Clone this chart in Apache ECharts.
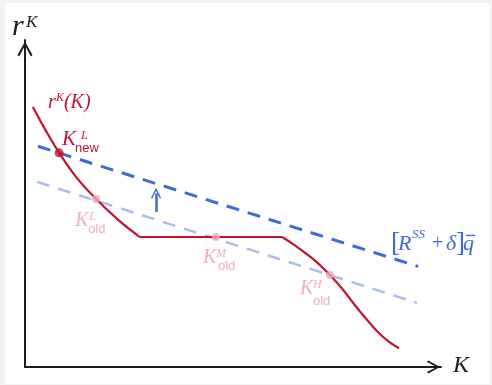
<!DOCTYPE html>
<html>
<head>
<meta charset="utf-8">
<script src="https://cdn.jsdelivr.net/npm/echarts@6/dist/echarts.min.js"></script>
<style>
  html, body { margin: 0; padding: 0; background: #fff; }
  #chart { width: 492px; height: 385px; }
</style>
</head>
<body>
<div id="chart"></div>
<script>
// Return on capital r^K(K): steep left branch, flat middle, S-shaped right branch
const leftBranch = [[0.19, 6.36], [0.48, 5.82], [0.82, 5.24], [1.25, 4.62], [1.71, 4.11], [2.24, 3.60], [2.76, 3.18]];
const plateau = [[2.76, 3.18], [6.18, 3.18]];
const rightBranch = [[6.18, 3.18], [6.47, 2.99], [6.75, 2.78], [7.04, 2.54], [7.33, 2.25], [7.62, 1.92], [7.91, 1.54], [8.20, 1.18], [8.49, 0.85], [8.77, 0.60], [8.99, 0.46]];

// Required return [R^SS + delta] q-bar, before and after the rise
const oldLine = [[0.29, 4.53], [9.42, 1.57]];
const newLine = [[0.31, 5.40], [9.45, 2.46]];

// Steady states
const newPoint = [0.82, 5.24];
const oldPoints = [[1.71, 4.11], [4.59, 3.18], [7.33, 2.25]];

// Upward shift of the required-return line (shaft start and end)
const shiftArrow = { x: 3.15, from: 3.79, to: 4.25 };

const RED = '#c4122f';
const NAVY = '#3d6cd6';
const PALE = '#abbdea';
const PINK = '#f1a5b5';
const PINK_TEXT = '#efb0be';
const INK = '#1c1c1c';
const SERIF = '"Liberation Serif", "DejaVu Serif", serif';
const SANS = '"Liberation Sans", "DejaVu Sans", sans-serif';

// open arrow head, pointing up in its own frame
const chevron = 'path://M5,0 L10,9 L8.9,10 L5,2.6 L1.1,10 L0,9 Z';

const chart = echarts.init(document.getElementById('chart'));

const axisCommon = {
  type: 'value',
  axisTick: { show: false },
  axisLabel: { show: false },
  splitLine: { show: false }
};

const curveLine = { color: RED, width: 2.2 };

chart.setOption({
  animation: false,
  backgroundColor: '#fff',
  grid: { left: 25, right: 51, top: 40, bottom: 18 },
  xAxis: Object.assign({}, axisCommon, {
    min: 0, max: 10,
    axisLine: {
      show: true, onZero: false,
      lineStyle: { color: INK, width: 2 },
      symbol: ['none', chevron], symbolSize: [13, 15], symbolOffset: [0, -7.5]
    }
  }),
  yAxis: Object.assign({}, axisCommon, {
    min: 0, max: 8,
    axisLine: {
      show: true, onZero: false,
      lineStyle: { color: INK, width: 2 },
      symbol: ['none', chevron], symbolSize: [15, 18], symbolOffset: [0, -9]
    }
  }),
  series: [
    {
      name: 'old required return', type: 'line', data: oldLine,
      showSymbol: false, silent: true, z: 1,
      lineStyle: { color: PALE, width: 2.5, type: [13, 9] },
      emphasis: { disabled: true },
      markLine: {
        silent: true,
        symbol: ['none', chevron],
        symbolSize: [10, 11],
        label: { show: false },
        emphasis: { disabled: true },
        lineStyle: { color: NAVY, width: 2.5, type: 'solid' },
        data: [[{ coord: [shiftArrow.x, shiftArrow.from] }, { coord: [shiftArrow.x, shiftArrow.to] }]]
      }
    },
    {
      name: 'new required return', type: 'line', data: newLine,
      showSymbol: false, silent: true, z: 2,
      lineStyle: { color: NAVY, width: 3, type: [13, 9] },
      emphasis: { disabled: true }
    },
    {
      name: 'rK left', type: 'line', data: leftBranch, smooth: 0.4,
      showSymbol: false, silent: true, z: 3,
      lineStyle: curveLine, emphasis: { disabled: true }
    },
    {
      name: 'rK flat', type: 'line', data: plateau,
      showSymbol: false, silent: true, z: 3,
      lineStyle: curveLine, emphasis: { disabled: true }
    },
    {
      name: 'rK right', type: 'line', data: rightBranch, smooth: 0.4,
      showSymbol: false, silent: true, z: 3,
      lineStyle: curveLine, emphasis: { disabled: true }
    },
    {
      name: 'old steady states', type: 'scatter', data: oldPoints,
      symbolSize: 8, silent: true, z: 4,
      itemStyle: { color: PINK }, emphasis: { disabled: true }
    },
    {
      name: 'new steady state', type: 'scatter', data: [newPoint],
      symbolSize: 9, silent: true, z: 5,
      itemStyle: { color: RED }, emphasis: { disabled: true }
    }
  ]
});

// ---- math-style labels, placed relative to points on the chart ----
function piece(str, x, baseline, size, color, opts) {
  opts = opts || {};
  return {
    type: 'text', silent: true, z: 10,
    x: x, y: baseline - 0.3 * size,
    style: {
      text: str,
      fontSize: size,
      fontFamily: opts.family || SERIF,
      fontStyle: opts.upright ? 'normal' : 'italic',
      fill: color,
      align: 'left', verticalAlign: 'middle',
      textAlign: 'left', textVerticalAlign: 'middle'
    }
  };
}

function labelGroup(anchor, color, parts, extra) {
  const p = chart.convertToPixel({ gridIndex: 0 }, anchor);
  const children = parts.map(function (q) {
    return piece(q[0], q[1], q[2], q[3], color, q[4]);
  });
  return { type: 'group', x: p[0], y: p[1], silent: true, children: children.concat(extra || []) };
}

const graphics = [
  // frame
  { type: 'rect', silent: true, z: -10, shape: { x: 0, y: 0, width: 492, height: 385 }, style: { fill: '#f3f3f3' } },
  { type: 'rect', silent: true, z: -9, shape: { x: 5, y: 3, width: 485, height: 381 }, style: { fill: '#ffffff' } },

  // axis names
  labelGroup([0, 8], INK, [
    ['r', -13, -4, 30],
    ['K', 1, -12, 17]
  ]),
  labelGroup([10, 0], INK, [
    ['K', 12, 6, 24]
  ]),

  // curve name
  labelGroup(leftBranch[0], RED, [
    ['r', 15, 2, 20],
    ['K', 23, -6, 12],
    ['(K)', 31, 2, 20]
  ]),

  // K^L_new
  labelGroup(newPoint, RED, [
    ['K', 3, -7, 21],
    ['L', 22, -13, 12],
    ['new', 16, 0, 13, { family: SANS, upright: true }]
  ]),

  // K^L_old, K^M_old, K^H_old
  labelGroup(oldPoints[0], PINK_TEXT, [
    ['K', -21, 28, 20],
    ['L', -7, 21, 12],
    ['old', -8, 34, 13, { family: SANS, upright: true }]
  ]),
  labelGroup(oldPoints[1], PINK_TEXT, [
    ['K', -13, 27, 20],
    ['M', 0, 20, 12],
    ['old', 2, 33, 13, { family: SANS, upright: true }]
  ]),
  labelGroup(oldPoints[2], PINK_TEXT, [
    ['K', -30, 20, 20],
    ['H', -17, 13, 12],
    ['old', -17, 30, 13, { family: SANS, upright: true }]
  ]),

  // [R^SS + delta] q-bar next to the new line
  labelGroup(newLine[1], NAVY, [
    ['[', -27, -14, 27, { upright: true }],
    ['R', -20, -16, 22],
    ['SS', -6, -28, 13],
    ['+', 14, -17, 20, { upright: true }],
    ['\u03b4', 28, -16, 22],
    [']', 38, -14, 27, { upright: true }],
    ['q', 45, -16, 22]
  ], [
    { type: 'line', silent: true, shape: { x1: 48, y1: -31, x2: 57, y2: -31 }, style: { stroke: NAVY, lineWidth: 1.4 } }
  ])
];

chart.setOption({ graphic: graphics });
</script>
</body>
</html>
